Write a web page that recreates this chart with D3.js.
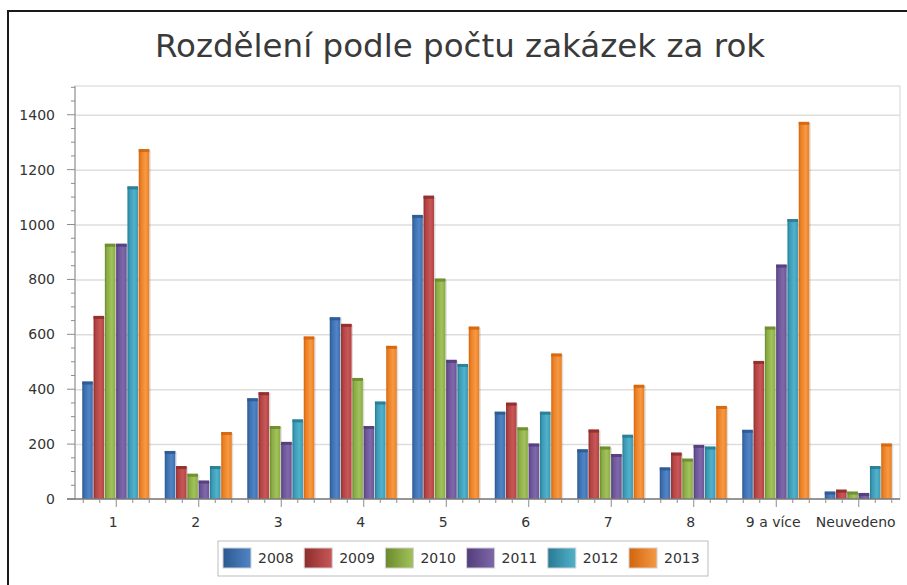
<!DOCTYPE html>
<html>
<head>
<meta charset="utf-8">
<script src="https://cdn.jsdelivr.net/npm/d3@7"></script>
<style>
  body { margin: 0; background: #fff; }
  svg text { font-family: "DejaVu Sans", Verdana, sans-serif; }
</style>
</head>
<body>
<div id="chart"></div>
<script>
// data
var categories = ["1", "2", "3", "4", "5", "6", "7", "8", "9 a více", "Neuvedeno"];
var years = ["2008", "2009", "2010", "2011", "2012", "2013"];
var v2008 = [428, 175, 367, 662, 1035, 318, 181, 115, 252, 27];
var v2009 = [667, 120, 389, 638, 1105, 351, 253, 169, 503, 34];
var v2010 = [930, 92, 266, 441, 803, 261, 191, 147, 628, 27];
var v2011 = [930, 67, 208, 266, 507, 202, 164, 197, 854, 22];
var v2012 = [1139, 120, 290, 355, 492, 318, 234, 191, 1020, 120];
var v2013 = [1275, 244, 592, 558, 628, 530, 416, 339, 1374, 202];
var yTicks = [0, 200, 400, 600, 800, 1000, 1200, 1400];

var seriesValues = [v2008, v2009, v2010, v2011, v2012, v2013];
// [dark, base, light]
var colors = [
    ["#2c5890", "#3c6eae", "#5185c6"],
    ["#8e2c2c", "#b34242", "#c85858"],
    ["#6a8a2c", "#8aab45", "#a2c35b"],
    ["#523c7a", "#6b5496", "#8069aa"],
    ["#287a92", "#3a9ab5", "#52b2cb"],
    ["#d2640c", "#ec7e22", "#f59a45"]
];

var width = 907, height = 585;
var plot = { left: 75, right: 900, top: 86, bottom: 499 };

var svg = d3.select("#chart").append("svg")
    .attr("width", width)
    .attr("height", height);

var defs = svg.append("defs");
colors.forEach(function (c, i) {
    var g = defs.append("linearGradient").attr("id", "bar" + i)
        .attr("x1", 0).attr("x2", 1).attr("y1", 0).attr("y2", 0);
    g.append("stop").attr("offset", "0%").attr("stop-color", c[0]);
    g.append("stop").attr("offset", "20%").attr("stop-color", c[1]);
    g.append("stop").attr("offset", "65%").attr("stop-color", c[2]);
    g.append("stop").attr("offset", "100%").attr("stop-color", c[1]);

    var l = defs.append("linearGradient").attr("id", "leg" + i)
        .attr("x1", 0).attr("x2", 1).attr("y1", 0).attr("y2", 0);
    l.append("stop").attr("offset", "0%").attr("stop-color", c[0]);
    l.append("stop").attr("offset", "100%").attr("stop-color", c[2]);
});

// outer frame
svg.append("rect")
    .attr("x", 8).attr("y", 11)
    .attr("width", 920).attr("height", 600)
    .attr("fill", "none")
    .attr("stroke", "#1a1a1a")
    .attr("stroke-width", 2);

// title
svg.append("text")
    .attr("x", 460).attr("y", 57)
    .attr("text-anchor", "middle")
    .attr("font-size", 32.5)
    .attr("fill", "#3a3a3a")
    .text("Rozdělení podle počtu zakázek za rok");

var x = d3.scaleBand().domain(categories).range([plot.left, plot.right]);
var xSub = d3.scaleBand().domain(years).range([0, 67]).paddingInner(0.07);
var y = d3.scaleLinear().domain([0, 1500]).range([plot.bottom, 87.3]);

// plot area frame
svg.append("rect")
    .attr("x", plot.left).attr("y", plot.top)
    .attr("width", plot.right - plot.left)
    .attr("height", plot.bottom - plot.top)
    .attr("fill", "none")
    .attr("stroke", "#d4d4d4");

// gridlines
svg.append("g")
    .attr("transform", "translate(" + plot.left + ",0)")
    .call(d3.axisLeft(y).tickValues(yTicks.slice(1))
        .tickSize(-(plot.right - plot.left)).tickFormat(""))
    .call(function (g) {
        g.select(".domain").remove();
        g.selectAll("line").attr("stroke", "#dedede").attr("stroke-width", 1.5);
    });

// bars
var groups = svg.append("g").selectAll("g")
    .data(categories).enter().append("g")
    .attr("transform", function (d) {
        return "translate(" + (x(d) + x.bandwidth() / 2 - 34) + ",0)";
    });

groups.selectAll("g.bar")
    .data(function (d, ci) {
        return years.map(function (yr, si) {
            return { year: yr, s: si, value: seriesValues[si][ci] };
        });
    })
    .enter().append("g")
    .attr("class", "bar")
    .each(function (d) {
        var g = d3.select(this);
        var bx = xSub(d.year), bw = xSub.bandwidth();
        var top = y(d.value), h = y(0) - y(d.value);
        g.append("rect") // shadow
            .attr("x", bx + 1.5).attr("y", top + 1)
            .attr("width", bw).attr("height", h - 1)
            .attr("fill", "#000").attr("opacity", 0.12);
        g.append("rect")
            .attr("x", bx).attr("y", top)
            .attr("width", bw).attr("height", h)
            .attr("fill", "url(#bar" + d.s + ")");
        g.append("rect") // top cap
            .attr("x", bx).attr("y", top)
            .attr("width", bw).attr("height", Math.min(3, h))
            .attr("fill", colors[d.s][0]).attr("opacity", 0.85);
    });

// y axis
var yMinor = d3.range(0, 1501, 50).filter(function (v) { return v % 200 !== 0; });
var yAxis = svg.append("g").attr("transform", "translate(" + plot.left + ",0)");
yAxis.append("line")
    .attr("x1", 0).attr("x2", 0)
    .attr("y1", plot.top).attr("y2", plot.bottom)
    .attr("stroke", "#8c8c8c");
yAxis.selectAll("line.minor").data(yMinor).enter().append("line")
    .attr("x1", -4).attr("x2", 0)
    .attr("y1", function (d) { return y(d); }).attr("y2", function (d) { return y(d); })
    .attr("stroke", "#8c8c8c");
yAxis.selectAll("line.major").data(yTicks).enter().append("line")
    .attr("x1", -8).attr("x2", 0)
    .attr("y1", function (d) { return y(d); }).attr("y2", function (d) { return y(d); })
    .attr("stroke", "#8c8c8c");
yAxis.selectAll("text").data(yTicks).enter().append("text")
    .attr("x", -20)
    .attr("y", function (d) { return y(d); })
    .attr("dy", "0.36em")
    .attr("text-anchor", "end")
    .attr("font-size", 14)
    .attr("fill", "#333")
    .text(function (d) { return d; });

// x axis
var xAxis = svg.append("g").attr("transform", "translate(0," + plot.bottom + ")");
xAxis.append("line")
    .attr("x1", plot.left - 8).attr("x2", plot.right)
    .attr("stroke", "#7a7a7a").attr("stroke-width", 1.5);
var minorX = [];
categories.forEach(function (c) {
    [-2, -1, 1, 2].forEach(function (k) {
        minorX.push(x(c) + x.bandwidth() / 2 + k * x.bandwidth() / 5);
    });
});
xAxis.selectAll("line.minor").data(minorX).enter().append("line")
    .attr("x1", function (d) { return d; }).attr("x2", function (d) { return d; })
    .attr("y1", 0).attr("y2", 4)
    .attr("stroke", "#8c8c8c");
xAxis.selectAll("line.major").data(categories).enter().append("line")
    .attr("x1", function (d) { return x(d) + x.bandwidth() / 2; })
    .attr("x2", function (d) { return x(d) + x.bandwidth() / 2; })
    .attr("y1", 0).attr("y2", 8)
    .attr("stroke", "#8c8c8c");
xAxis.selectAll("text").data(categories).enter().append("text")
    .attr("x", function (d) { return x(d) + x.bandwidth() / 2 - 3; })
    .attr("y", 28)
    .attr("text-anchor", "middle")
    .attr("font-size", 14)
    .attr("fill", "#333")
    .text(function (d) { return d; });

// legend
var legend = svg.append("g").attr("transform", "translate(218,541)");
legend.append("rect")
    .attr("width", 490).attr("height", 35)
    .attr("fill", "#fff")
    .attr("stroke", "#bdbdbd");
var items = legend.selectAll("g.item").data(years).enter().append("g")
    .attr("class", "item")
    .attr("transform", function (d, i) { return "translate(" + (5 + i * 81.2) + ",7)"; });
items.append("rect")
    .attr("width", 28).attr("height", 20)
    .attr("fill", function (d, i) { return "url(#leg" + i + ")"; })
    .attr("stroke", "#d0d0d0");
items.append("text")
    .attr("x", 35).attr("y", 10)
    .attr("dy", "0.36em")
    .attr("font-size", 14)
    .attr("fill", "#333")
    .text(function (d) { return d; });
</script>
</body>
</html>
